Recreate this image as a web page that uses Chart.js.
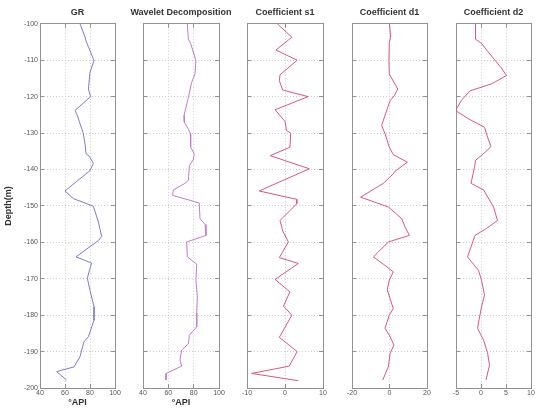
<!DOCTYPE html>
<html><head><meta charset="utf-8">
<script src="https://cdn.jsdelivr.net/npm/chart.js@4.4.0/dist/chart.umd.min.js"></script>
<style>
html,body{margin:0;padding:0;background:#fff;width:538px;height:410px;overflow:hidden;position:relative;}
canvas{position:absolute;top:0;}
</style></head><body>
<canvas id="c0"></canvas><canvas id="c1"></canvas><canvas id="c2"></canvas><canvas id="c3"></canvas><canvas id="c4"></canvas>
<script>
// ---- data (depth in m, negative downward) ----
const panelTitles = ["GR", "Wavelet Decomposition", "Coefficient s1", "Coefficient d1", "Coefficient d2"];
const xAxisLabels = ["°API", "°API", "", "", ""];
const depthTicks = {min: -200, max: -100, step: 10};
const xTickMin = [40, 40, -10, -20, -5];
const xTickMax = [100, 100, 10, 20, 10];
const xTickStep = [20, 20, 10, 20, 5];

const grDepth = [-100,-103.6,-104.7,-106.3,-110.1,-113.3,-117.9,-120,-123.8,-125.2,-130.2,-133,-135.7,-136.4,-138.3,-140.3,-145.9,-148,-150.1,-154.4,-158.4,-159.5,-164,-165.7,-167.7,-169.9,-173.2,-177.7,-181.4,-185.9,-187.3,-191.4,-194.2,-195.5,-197.8];
const grValues = [72,76,76.8,78.7,83.2,80,78.7,80.5,68,69.9,74.7,76,76.8,79.5,82.7,80,60,66.7,82.7,86.7,89.3,86.7,68.8,81.3,79.5,77.9,80,83.2,83.2,78.7,75.2,72,67.2,53.3,61.3];

const waveletDepth = [-100,-104.2,-105.4,-110.1,-113.8,-116.1,-120.2,-125.2,-127,-128.4,-130.2,-133.9,-135.7,-137.3,-138.9,-143,-143.8,-145.6,-147.1,-149.2,-153.5,-155.1,-158.1,-159.9,-164,-166,-170.4,-175,-179.5,-183.2,-185.5,-187.9,-189.6,-192.3,-194,-196,-197.8];
const waveletValues = [75,75.8,77.6,81.8,81,78.4,75.8,72.4,72.6,75,77.6,77.6,80.5,79.7,76.6,75.8,73.2,64,63.4,84.4,85,89,89.7,74.5,75,82.4,81.8,82.9,82.4,82.4,76.6,75.8,70.5,69.2,70.5,58.2,58.2];

const s1Depth = [-100,-103.7,-107.2,-110,-114,-115.6,-118.2,-120,-123.6,-126.8,-129.3,-130,-133.9,-136.2,-139.8,-145.9,-148.2,-149.4,-154,-156.9,-159.9,-164.2,-165.8,-170.2,-173.6,-177.5,-180,-186.1,-190,-194,-196,-198];
const s1Values = [-2,1.8,-2.4,3.2,-1.3,-1.5,-0.6,6.1,-2.6,0,0.4,1.5,1.3,-3.9,6.4,-6.8,3.1,3.1,-1.3,-0.6,0.9,-1.5,3.5,-2.6,1.3,-0.4,1.8,-1.5,3.2,1.1,-8.8,3.5];

const d1Depth = [-100,-103.7,-105.1,-110.1,-113.8,-117.9,-119.7,-121.1,-127.9,-130.2,-133.9,-135.9,-138,-140.5,-141.2,-143.8,-147.6,-150.3,-153.5,-155.8,-158.1,-159.9,-164,-166,-168.1,-170.4,-173,-178.2,-180,-183.6,-185.5,-188.2,-190.5,-194.1,-197.8];
const d1Values = [0,0.6,-0.1,-0.3,-0.1,4.4,2.6,0.3,-4.2,-2.4,-0.1,2,9.5,2.9,2,-3.3,-15.4,-0.6,6.5,8.3,10.6,-0.6,-8.6,-3.3,2,-0.1,-1.2,2,-0.1,-2.4,-0.1,2.4,0.3,-0.6,-3.6];

const d2Depth = [-100,-104.2,-105.4,-109.2,-112,-114.2,-116.5,-118.4,-121,-123.8,-126.1,-128.4,-131.1,-133.7,-135.3,-137.5,-139.4,-143.8,-145.6,-150.3,-154,-156.2,-158.1,-164,-167.7,-170.4,-174.5,-177.7,-183.6,-186.8,-190.3,-193.7,-197.8];
const d2Values = [-1.1,-1.1,0.1,2.3,4,5.1,2.1,-2.2,-3.9,-5.1,-2.5,0.7,1.3,2,0.8,-1.1,-1.3,-2,0.5,2.5,3.3,1.1,-1.2,-2.7,-0.5,0.1,0.7,0.1,-0.7,0.5,1.3,1.7,1];

const depths = [grDepth, waveletDepth, s1Depth, d1Depth, d2Depth];
const values = [grValues, waveletValues, s1Values, d1Values, d2Values];

// ---- layout / style ----
const plotLeft = [40, 143, 247, 352, 456];
const plotWidth = [75, 76, 76, 75, 75];
const lineColors = ["#7c7ecb", "#c07bcb", "#d8587a", "#d8587a", "#d8587a"];
const FAMILY = "'Liberation Sans', Arial, sans-serif";
const frameColor = "#929292";
const gridColor = "#cccccc";
const tickFont = {family: FAMILY, size: 7};
const tickColor = "#555";

function makePanel(i) {
  const yw = i === 0 ? 40 : 22;
  const padR = yw;            // symmetric canvas so the title centres over the plot
  const cv = document.getElementById('c' + i);
  cv.width = yw + plotWidth[i] + padR;
  cv.height = 410;
  cv.style.left = (plotLeft[i] - yw) + 'px';
  const pts = depths[i].map((d, k) => ({x: values[i][k], y: d}));
  new Chart(cv, {
    type: 'scatter',
    data: {datasets: [{data: pts, showLine: true, borderColor: lineColors[i], borderWidth: 1,
      pointRadius: 0, pointHoverRadius: 0, tension: 0, fill: false}]},
    options: {
      responsive: false, animation: false, devicePixelRatio: 1, events: [],
      layout: {padding: 0},
      plugins: {
        legend: {display: false}, tooltip: {enabled: false},
        title: {display: true, text: panelTitles[i], fullSize: true, color: '#333',
          font: {family: FAMILY, size: 9, weight: 'bold'}, padding: {top: 7, bottom: 6}}
      },
      scales: {
        x: {type: 'linear', position: 'bottom', min: xTickMin[i], max: xTickMax[i],
          ticks: {stepSize: xTickStep[i], font: tickFont, color: tickColor, padding: 5, maxRotation: 0, minRotation: 0, autoSkip: false},
          grid: {color: gridColor, lineWidth: 1, drawTicks: true, tickLength: -4, tickColor: frameColor, tickWidth: 1},
          border: {display: true, color: frameColor, width: 1, dash: [1, 2]},
          title: {display: xAxisLabels[i] !== '', text: xAxisLabels[i], color: '#333',
            font: {family: FAMILY, size: 9, weight: 'bold'}, padding: {top: 0, bottom: 2}},
          afterFit: s => { s.height = 22; }
        },
        x2: {type: 'linear', position: 'top', min: xTickMin[i], max: xTickMax[i],
          ticks: {stepSize: xTickStep[i], display: false},
          grid: {drawOnChartArea: false, drawTicks: true, tickLength: -4, tickColor: frameColor},
          border: {display: true, color: frameColor, width: 1},
          afterFit: s => { s.height = 0; }
        },
        y: {type: 'linear', position: 'left', min: depthTicks.min, max: depthTicks.max,
          ticks: {stepSize: depthTicks.step, display: i === 0, font: tickFont, color: tickColor, padding: 6, maxTicksLimit: 20, autoSkip: false},
          grid: {color: gridColor, lineWidth: 1, drawTicks: true, tickLength: -4, tickColor: frameColor, tickWidth: 1},
          border: {display: true, color: frameColor, width: 1, dash: [1, 2]},
          title: {display: i === 0, text: 'Depth(m)', color: '#333',
            font: {family: FAMILY, size: 9, weight: 'bold'}, padding: {top: 3, bottom: 0}},
          afterFit: s => { s.width = yw; }
        },
        y2: {type: 'linear', position: 'right', min: depthTicks.min, max: depthTicks.max,
          ticks: {stepSize: depthTicks.step, display: false, maxTicksLimit: 20},
          grid: {drawOnChartArea: false, drawTicks: true, tickLength: -4, tickColor: frameColor},
          border: {display: true, color: frameColor, width: 1},
          afterFit: s => { s.width = padR; }
        }
      }
    }
  });
}
for (let i = 0; i < 5; i++) makePanel(i);
</script>
</body></html>
